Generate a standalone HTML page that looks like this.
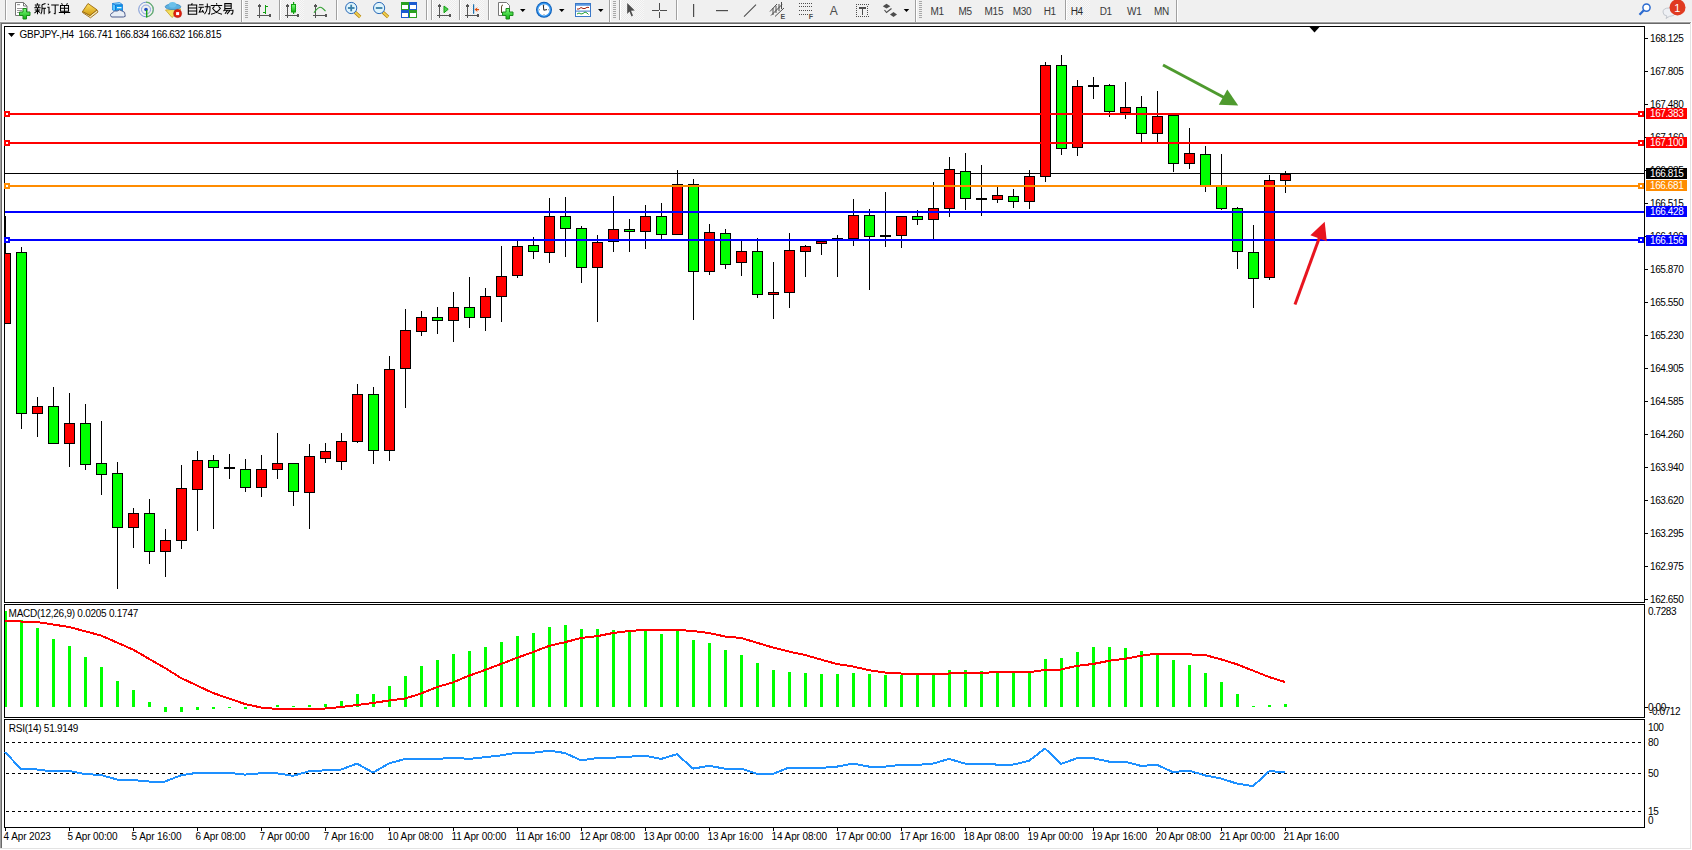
<!DOCTYPE html>
<html><head><meta charset="utf-8">
<style>
html,body{margin:0;padding:0;background:#fff;}
body{width:1692px;height:850px;overflow:hidden;position:relative;font-family:"Liberation Sans",sans-serif;}
svg{position:absolute;left:0;top:0;}
text{font-family:"Liberation Sans",sans-serif;}
</style></head><body>
<svg width="1692" height="850" viewBox="0 0 1692 850">

<rect x="0" y="0" width="1692" height="22" fill="#f0f0f0"/>
<rect x="0" y="21" width="1692" height="1" fill="#f7f7f7"/>
<rect x="0" y="22" width="1691" height="1" fill="#a0a0a0"/>
<rect x="1" y="23" width="1690" height="1" fill="#696969"/>
<rect x="0" y="22" width="1" height="826" fill="#a0a0a0"/>
<rect x="1" y="23" width="1" height="825" fill="#696969"/>
<rect x="1690" y="23" width="1" height="826" fill="#e3e3e3"/>
<rect x="0" y="848" width="1691" height="1" fill="#e3e3e3"/>
<defs><pattern id="chk" width="2" height="2" patternUnits="userSpaceOnUse"><rect width="2" height="2" fill="#f8f8f8"/><rect width="1" height="1" fill="#ebebeb"/><rect x="1" y="1" width="1" height="1" fill="#ebebeb"/></pattern><linearGradient id="gold" x1="0" y1="0" x2="0" y2="1"><stop offset="0" stop-color="#ffe060"/><stop offset="1" stop-color="#d09a10"/></linearGradient><linearGradient id="grn" x1="0" y1="0" x2="0" y2="1"><stop offset="0" stop-color="#80ff80"/><stop offset="1" stop-color="#10b010"/></linearGradient><radialGradient id="blu" cx="0.5" cy="0.4" r="0.6"><stop offset="0" stop-color="#a8e0ff"/><stop offset="1" stop-color="#2a8ad8"/></radialGradient></defs>
<g shape-rendering="crispEdges">
<rect x="5" y="0" width="1" height="20" fill="#a0a0a0"/><rect x="6" y="0" width="1" height="20" fill="#ffffff"/>
<rect x="241" y="0" width="1" height="22" fill="#a0a0a0"/><rect x="242" y="0" width="1" height="22" fill="#ffffff"/>
<rect x="245" y="1" width="3" height="1" fill="#a8a8a8"/>
<rect x="245" y="3" width="3" height="1" fill="#a8a8a8"/>
<rect x="245" y="5" width="3" height="1" fill="#a8a8a8"/>
<rect x="245" y="7" width="3" height="1" fill="#a8a8a8"/>
<rect x="245" y="9" width="3" height="1" fill="#a8a8a8"/>
<rect x="245" y="11" width="3" height="1" fill="#a8a8a8"/>
<rect x="245" y="13" width="3" height="1" fill="#a8a8a8"/>
<rect x="245" y="15" width="3" height="1" fill="#a8a8a8"/>
<rect x="245" y="17" width="3" height="1" fill="#a8a8a8"/>
<rect x="280" y="0" width="24" height="20" fill="url(#chk)"/>
<rect x="279" y="0" width="1" height="20" fill="#a0a0a0"/><rect x="280" y="0" width="1" height="20" fill="#ffffff"/>
<rect x="336" y="0" width="1" height="20" fill="#a0a0a0"/><rect x="337" y="0" width="1" height="20" fill="#ffffff"/>
<rect x="426" y="0" width="1" height="20" fill="#a0a0a0"/><rect x="427" y="0" width="1" height="20" fill="#ffffff"/>
<rect x="432" y="0" width="24" height="20" fill="url(#chk)"/>
<rect x="431" y="0" width="1" height="20" fill="#a0a0a0"/><rect x="432" y="0" width="1" height="20" fill="#ffffff"/>
<rect x="460" y="0" width="24" height="20" fill="url(#chk)"/>
<rect x="459" y="0" width="1" height="20" fill="#a0a0a0"/><rect x="460" y="0" width="1" height="20" fill="#ffffff"/>
<rect x="488" y="0" width="1" height="20" fill="#a0a0a0"/><rect x="489" y="0" width="1" height="20" fill="#ffffff"/>
<rect x="609" y="0" width="1" height="22" fill="#a0a0a0"/><rect x="610" y="0" width="1" height="22" fill="#ffffff"/>
<rect x="613" y="1" width="3" height="1" fill="#a8a8a8"/>
<rect x="613" y="3" width="3" height="1" fill="#a8a8a8"/>
<rect x="613" y="5" width="3" height="1" fill="#a8a8a8"/>
<rect x="613" y="7" width="3" height="1" fill="#a8a8a8"/>
<rect x="613" y="9" width="3" height="1" fill="#a8a8a8"/>
<rect x="613" y="11" width="3" height="1" fill="#a8a8a8"/>
<rect x="613" y="13" width="3" height="1" fill="#a8a8a8"/>
<rect x="613" y="15" width="3" height="1" fill="#a8a8a8"/>
<rect x="613" y="17" width="3" height="1" fill="#a8a8a8"/>
<rect x="620" y="0" width="24" height="20" fill="url(#chk)"/>
<rect x="619" y="0" width="1" height="20" fill="#a0a0a0"/><rect x="620" y="0" width="1" height="20" fill="#ffffff"/>
<rect x="676" y="0" width="1" height="20" fill="#a0a0a0"/><rect x="677" y="0" width="1" height="20" fill="#ffffff"/>
<rect x="915" y="0" width="1" height="22" fill="#a0a0a0"/><rect x="916" y="0" width="1" height="22" fill="#ffffff"/>
<rect x="919" y="1" width="3" height="1" fill="#a8a8a8"/>
<rect x="919" y="3" width="3" height="1" fill="#a8a8a8"/>
<rect x="919" y="5" width="3" height="1" fill="#a8a8a8"/>
<rect x="919" y="7" width="3" height="1" fill="#a8a8a8"/>
<rect x="919" y="9" width="3" height="1" fill="#a8a8a8"/>
<rect x="919" y="11" width="3" height="1" fill="#a8a8a8"/>
<rect x="919" y="13" width="3" height="1" fill="#a8a8a8"/>
<rect x="919" y="15" width="3" height="1" fill="#a8a8a8"/>
<rect x="919" y="17" width="3" height="1" fill="#a8a8a8"/>
<rect x="1066" y="0" width="24" height="20" fill="url(#chk)"/>
<rect x="1065" y="0" width="1" height="20" fill="#a0a0a0"/><rect x="1066" y="0" width="1" height="20" fill="#ffffff"/>
<rect x="1176" y="0" width="1" height="22" fill="#a0a0a0"/><rect x="1177" y="0" width="1" height="22" fill="#ffffff"/>
</g>
<path d="M15.5,2.5 h8 l3.5,3.5 v9.5 h-11.5 z" fill="#fff" stroke="#777" stroke-width="1"/>
<path d="M23.5,2.5 v3.5 h3.5" fill="none" stroke="#777" stroke-width="1"/>
<g fill="#9a9a9a"><rect x="17" y="4" width="3" height="1.2"/><rect x="17" y="8" width="6" height="1"/><rect x="17" y="10" width="5" height="1"/><rect x="17" y="12" width="4" height="1"/></g>
<path d="M23,8.5 h3.5 v3.5 h3.5 v3.5 h-3.5 v3.5 h-3.5 v-3.5 h-3.5 v-3.5 h3.5 z" fill="url(#grn)" stroke="#1a8a1a" stroke-width="1"/>
<path d="M97,9.8 L98,12 L90.5,17.8 L82.5,12.5 L82.5,11.5 L90,15.5 Z" fill="#f4e6b0" stroke="#9a6a10" stroke-width="0.9"/>
<path d="M88,3.5 L97,9.8 L90,15.5 L82.5,11.5 Z" fill="url(#gold)" stroke="#9a6a10" stroke-width="0.9"/>
<path d="M112.5,3.5 L115.5,5 L115.5,11 L112.5,10 Z" fill="#5ac8ff" stroke="#0a78d8" stroke-width="0.7"/>
<path d="M112.5,3.5 L119.5,2.5 L122.5,4.5 L115.5,5 Z" fill="#8ad8ff" stroke="#0a78d8" stroke-width="0.7"/>
<rect x="115.5" y="5" width="7" height="6.5" fill="#10a0f0" stroke="#0a6ad0" stroke-width="0.7"/>
<rect x="117" y="7" width="4.5" height="1.3" fill="#e0f4ff"/>
<path d="M111.5,17 q-2.5,-3 1.2,-4.2 q1.2,-2.8 4.5,-1.8 q2.2,-2.5 5.2,0.2 q3,0.5 2.6,3.4 q1.2,2.4 -1.6,2.4 z" fill="#e8eef6" stroke="#4a5a8c" stroke-width="1"/>
<circle cx="146" cy="9.5" r="7.3" fill="none" stroke="#5a80d0" stroke-width="1" opacity="0.8"/>
<circle cx="146" cy="9.5" r="4.5" fill="none" stroke="#7090d8" stroke-width="1" opacity="0.8"/>
<path d="M146,2.2 A7.3,7.3 0 0 1 146,16.8" fill="none" stroke="#60b060" stroke-width="1.2" opacity="0.9"/>
<circle cx="146" cy="9.5" r="1.8" fill="#2050c0"/>
<rect x="146" y="10" width="1.4" height="7.5" fill="#18a018"/>
<path d="M165.5,10 L181,9 L172,17.5 Z" fill="#f4e060" stroke="#c8a020" stroke-width="0.8"/>
<ellipse cx="173" cy="6.8" rx="7.8" ry="2.8" fill="#5ab0e0" stroke="#3a88c0" stroke-width="0.8"/>
<ellipse cx="172.5" cy="4.8" rx="3.8" ry="2.8" fill="#6ac0ea"/>
<circle cx="177.6" cy="13.6" r="4" fill="#e02010" stroke="#b01808" stroke-width="0.6"/>
<rect x="176.1" y="12.1" width="3" height="3" fill="#fff"/>
<g shape-rendering="crispEdges" fill="#555555"><rect x="259" y="4" width="1" height="14"/><rect x="257" y="15" width="14" height="1"/><rect x="258" y="5" width="3" height="2"/><rect x="269" y="14" width="2" height="3"/></g>
<g shape-rendering="crispEdges" fill="#10a010"><rect x="265" y="5" width="1.2" height="9"/><rect x="265" y="6" width="3" height="1.2"/><rect x="263" y="12" width="2.5" height="1.2"/></g>
<g shape-rendering="crispEdges" fill="#555555"><rect x="287" y="4" width="1" height="14"/><rect x="285" y="15" width="14" height="1"/><rect x="286" y="5" width="3" height="2"/><rect x="297" y="14" width="2" height="3"/></g>
<rect x="293" y="2" width="1.2" height="12" fill="#10a010"/>
<rect x="291.5" y="4.5" width="4" height="7.5" fill="url(#grn)" stroke="#10a010" stroke-width="1"/>
<g shape-rendering="crispEdges" fill="#555555"><rect x="315" y="4" width="1" height="14"/><rect x="313" y="15" width="14" height="1"/><rect x="314" y="5" width="3" height="2"/><rect x="325" y="14" width="2" height="3"/></g>
<path d="M314,12.8 Q317,8 320,7.2 Q322,7 325.5,11.2" fill="none" stroke="#30a030" stroke-width="1.1"/>
<line x1="355.0" y1="12.2" x2="360.2" y2="17" stroke="#b08010" stroke-width="3.2"/>
<line x1="355.0" y1="12.2" x2="360.2" y2="17" stroke="#f0d050" stroke-width="1.8"/>
<circle cx="351.2" cy="8" r="5.6" fill="#dff4fc" stroke="#2a6ab8" stroke-width="1"/>
<rect x="347.9" y="7.1" width="6.6" height="1.8" fill="#3a80a8"/>
<rect x="350.3" y="4.7" width="1.8" height="6.6" fill="#3a80a8"/>
<line x1="382.90000000000003" y1="12.2" x2="388.1" y2="17" stroke="#b08010" stroke-width="3.2"/>
<line x1="382.90000000000003" y1="12.2" x2="388.1" y2="17" stroke="#f0d050" stroke-width="1.8"/>
<circle cx="379.1" cy="8" r="5.6" fill="#dff4fc" stroke="#2a6ab8" stroke-width="1"/>
<rect x="375.8" y="7.1" width="6.6" height="1.8" fill="#3a80a8"/>
<rect x="401" y="2" width="8" height="8" fill="#2aa020"/>
<rect x="402" y="5" width="6" height="4" fill="#fff"/>
<rect x="409" y="2" width="8" height="8" fill="#1a5ad0"/>
<rect x="410" y="5" width="6" height="4" fill="#fff"/>
<rect x="401" y="10" width="8" height="8" fill="#1a5ad0"/>
<rect x="402" y="13" width="6" height="4" fill="#fff"/>
<rect x="409" y="10" width="8" height="8" fill="#2aa020"/>
<rect x="410" y="13" width="6" height="4" fill="#fff"/>
<g shape-rendering="crispEdges" fill="#555555"><rect x="439" y="4" width="1" height="14"/><rect x="437" y="15" width="14" height="1"/><rect x="438" y="5" width="3" height="2"/><rect x="449" y="14" width="2" height="3"/></g>
<polygon points="444,6 448.2,9.3 444,12.8" fill="#50d050" stroke="#10a010" stroke-width="1"/>
<g shape-rendering="crispEdges" fill="#555555"><rect x="467" y="4" width="1" height="14"/><rect x="465" y="15" width="14" height="1"/><rect x="466" y="5" width="3" height="2"/><rect x="477" y="14" width="2" height="3"/></g>
<rect x="473" y="4.3" width="1.2" height="9.5" fill="#1a70b0"/>
<polygon points="474.5,9.5 477.5,7.2 477,9 479,9 479,10.2 477,10.2 477.5,12" fill="#e05010"/>
<path d="M498.5,2.5 h8 l3,3 v10 h-11 z" fill="#fff" stroke="#777" stroke-width="1"/>
<path d="M503,5 q-1.5,0 -1.5,2 v6" fill="none" stroke="#5a4a2a" stroke-width="1"/>
<path d="M506,8.5 h3.5 v3.5 h3.5 v3.5 h-3.5 v3.5 h-3.5 v-3.5 h-3.5 v-3.5 h3.5 z" fill="url(#grn)" stroke="#1a8a1a" stroke-width="1"/>
<polygon points="520,9 525.5,9 522.75,12" fill="#000"/>
<circle cx="544" cy="9.8" r="8" fill="#0a5cb8"/><circle cx="544" cy="9.8" r="7" fill="#3a9af0"/><circle cx="544" cy="9.8" r="5.6" fill="#fff"/>
<g fill="#555"><rect x="543.6" y="4.6" width="0.8" height="0.8"/><rect x="543.6" y="14.2" width="0.8" height="0.8"/><rect x="539" y="9.4" width="0.8" height="0.8"/><rect x="548.2" y="9.4" width="0.8" height="0.8"/></g>
<path d="M543.3,4.8 L543.8,10.2 L547,9.6" fill="none" stroke="#222" stroke-width="1"/>
<polygon points="559,9 564.5,9 561.75,12" fill="#000"/>
<rect x="575.5" y="3.5" width="15" height="13" fill="#fff" stroke="#3a78c8" stroke-width="1"/>
<rect x="576" y="4" width="14" height="1.8" fill="#5a98e0"/>
<rect x="576" y="10.6" width="14" height="1" fill="#3a78c8"/>
<polyline points="577,9 579,9 581,7.5 583,8.5 585,8.5 587,7.3 589,7.5" fill="none" stroke="#a02010" stroke-width="1"/>
<polyline points="577,14 579,13 581,14 583,13.5 585,12 587,13 588.5,14.5" fill="none" stroke="#20a030" stroke-width="1"/>
<polygon points="598,9 603.5,9 600.75,12" fill="#000"/>
<polygon points="627.2,3 634.8,10.6 631,10.8 633,15.6 631.5,16.6 629.5,11.6 627.2,13.9" fill="#4d4d4d"/>
<g shape-rendering="crispEdges" fill="#4d4d4d"><rect x="652" y="10" width="6.5" height="1"/><rect x="660" y="10" width="7" height="1"/><rect x="659" y="3" width="1" height="6.5"/><rect x="659" y="11.5" width="1" height="6.5"/></g>
<rect x="693" y="4" width="1.2" height="13" fill="#4d4d4d"/>
<rect x="716" y="10" width="12" height="1.2" fill="#4d4d4d"/>
<line x1="744" y1="16.7" x2="756" y2="4.6" stroke="#4d4d4d" stroke-width="1.1"/>
<g stroke="#4d4d4d" stroke-width="1" fill="none"><line x1="770" y1="11.5" x2="777" y2="4"/><line x1="771" y1="15.5" x2="782" y2="4.5"/><line x1="775" y1="16.5" x2="784" y2="8"/><line x1="773" y1="8" x2="773" y2="15"/><line x1="776" y1="6" x2="776" y2="13"/><line x1="779" y1="4" x2="779" y2="11"/><line x1="781.5" y1="2" x2="781.5" y2="9"/></g>
<text x="780.6" y="18.8" font-size="7" font-weight="bold" fill="#4d4d4d">E</text>
<g shape-rendering="crispEdges" fill="#4d4d4d">
<rect x="799" y="3" width="1" height="1"/>
<rect x="801" y="3" width="1" height="1"/>
<rect x="803" y="3" width="1" height="1"/>
<rect x="805" y="3" width="1" height="1"/>
<rect x="807" y="3" width="1" height="1"/>
<rect x="809" y="3" width="1" height="1"/>
<rect x="811" y="3" width="1" height="1"/>
<rect x="799" y="6" width="1" height="1"/>
<rect x="801" y="6" width="1" height="1"/>
<rect x="803" y="6" width="1" height="1"/>
<rect x="805" y="6" width="1" height="1"/>
<rect x="807" y="6" width="1" height="1"/>
<rect x="809" y="6" width="1" height="1"/>
<rect x="811" y="6" width="1" height="1"/>
<rect x="799" y="10" width="1" height="1"/>
<rect x="801" y="10" width="1" height="1"/>
<rect x="803" y="10" width="1" height="1"/>
<rect x="805" y="10" width="1" height="1"/>
<rect x="807" y="10" width="1" height="1"/>
<rect x="809" y="10" width="1" height="1"/>
<rect x="811" y="10" width="1" height="1"/>
<rect x="799" y="14" width="1" height="1"/>
<rect x="801" y="14" width="1" height="1"/>
<rect x="803" y="14" width="1" height="1"/>
<rect x="805" y="14" width="1" height="1"/>
<rect x="807" y="14" width="1" height="1"/>
</g>
<text x="808.8" y="18.8" font-size="7" font-weight="bold" fill="#4d4d4d">F</text>
<text x="829.8" y="15" font-size="12" fill="#4d4d4d">A</text>
<g shape-rendering="crispEdges" fill="#4d4d4d">
<rect x="856" y="4" width="1" height="1"/><rect x="856" y="16" width="1" height="1"/>
<rect x="858" y="4" width="1" height="1"/><rect x="858" y="16" width="1" height="1"/>
<rect x="860" y="4" width="1" height="1"/><rect x="860" y="16" width="1" height="1"/>
<rect x="862" y="4" width="1" height="1"/><rect x="862" y="16" width="1" height="1"/>
<rect x="864" y="4" width="1" height="1"/><rect x="864" y="16" width="1" height="1"/>
<rect x="866" y="4" width="1" height="1"/><rect x="866" y="16" width="1" height="1"/>
<rect x="868" y="4" width="1" height="1"/><rect x="868" y="16" width="1" height="1"/>
<rect x="856" y="6" width="1" height="1"/><rect x="867" y="6" width="1" height="1"/>
<rect x="856" y="8" width="1" height="1"/><rect x="867" y="8" width="1" height="1"/>
<rect x="856" y="10" width="1" height="1"/><rect x="867" y="10" width="1" height="1"/>
<rect x="856" y="12" width="1" height="1"/><rect x="867" y="12" width="1" height="1"/>
<rect x="856" y="14" width="1" height="1"/><rect x="867" y="14" width="1" height="1"/>
<rect x="859" y="7" width="7" height="1.6"/><rect x="861.6" y="7" width="1.8" height="8"/>
</g>
<polygon points="886.5,3.8 890.3,6.3 886.5,8.6 882.8,6.3" fill="#4d4d4d"/>
<polyline points="884.5,10 886.5,12.5 891.5,8.5" fill="none" stroke="#4d4d4d" stroke-width="1.2"/>
<polygon points="893.5,12 897,14.5 893.5,17 890,14.5" fill="#4d4d4d"/>
<polygon points="903.7,9 909.2,9 906.45,12" fill="#000"/>
<text x="930.6" y="14.6" font-size="10" letter-spacing="-0.3" fill="#3a3a3a">M1</text>
<text x="958.5" y="14.6" font-size="10" letter-spacing="-0.3" fill="#3a3a3a">M5</text>
<text x="984.6" y="14.6" font-size="10" letter-spacing="-0.3" fill="#3a3a3a">M15</text>
<text x="1012.7" y="14.6" font-size="10" letter-spacing="-0.3" fill="#3a3a3a">M30</text>
<text x="1043.7" y="14.6" font-size="10" letter-spacing="-0.3" fill="#3a3a3a">H1</text>
<text x="1070.7" y="14.6" font-size="10" letter-spacing="-0.3" fill="#2a2a2a">H4</text>
<text x="1099.7" y="14.6" font-size="10" letter-spacing="-0.3" fill="#3a3a3a">D1</text>
<text x="1127" y="14.6" font-size="10" letter-spacing="-0.3" fill="#3a3a3a">W1</text>
<text x="1153.9" y="14.6" font-size="10" letter-spacing="-0.3" fill="#3a3a3a">MN</text>
<circle cx="1646.5" cy="7.6" r="3.6" fill="#fff" stroke="#2a6ad0" stroke-width="1.5"/>
<line x1="1643.8" y1="10.3" x2="1639.5" y2="14.8" stroke="#2a6ad0" stroke-width="2.2"/>
<path d="M1669,8 q-6,0 -6,4 q0,3.5 4,4 l-1,2.5 l3.5,-2.2 q6,-0.3 6,-4.3 q0,-4 -6.5,-4 z" fill="#eef0f4" stroke="#b8bcc4" stroke-width="0.8"/>
<circle cx="1677.5" cy="7.4" r="8" fill="#e03a20"/>
<text x="1674.2" y="11.6" font-size="11" fill="#fff">1</text>
<path transform="translate(34,3.2)" d="M3,0 L3.8,1.2 M0.8,1.8 H6.2 M1.8,2.6 L2.4,4 M5,2.6 L4.4,4 M0.3,4.6 H6.7 M0.8,6.8 H6.2 M3.5,4.6 V11 M3.3,7.5 L0.5,10 M3.7,7.5 L6,9.5 M11.5,0.4 L8,1.6 M8,1.6 V6 Q8,9.5 6.8,11 M8,5 H12 M10.2,5 V11" fill="none" stroke="#000" stroke-width="1.05"/>
<path transform="translate(47,3.2)" d="M0.8,0.5 L1.8,1.8 M0.3,4 H2 V9.8 L3.5,8.5 M4.2,1.8 H11.8 M8.2,1.8 V10.4 Q8.2,11 6.8,10.2" fill="none" stroke="#000" stroke-width="1.05"/>
<path transform="translate(58.5,3.2)" d="M3,0 L4,1.6 M9,0 L8,1.6 M2,2.2 H10 V8 H2 Z M2,5.1 H10 M6,2.2 V11 M0.3,9.3 H11.7" fill="none" stroke="#000" stroke-width="1.05"/>
<path transform="translate(186.5,3.2)" d="M5.8,0 L5,1.6 M1.8,1.8 H10.2 V11 H1.8 Z M1.8,4.8 H10.2 M1.8,7.8 H10.2" fill="none" stroke="#000" stroke-width="1.05"/>
<path transform="translate(198.5,3.2)" d="M0.5,1.5 H5 M0,4 H5.5 M2.8,4 L0.8,9 L5,8.3 M3.8,6.8 L5.3,9.5 M6.2,3.6 H11.5 Q11.5,10 10.6,11 L9.5,10.4 M8.8,0.3 V4 Q8.5,8.5 6,11" fill="none" stroke="#000" stroke-width="1.05"/>
<path transform="translate(210.5,3.2)" d="M6,0 L6.4,1.4 M0.3,2.2 H11.7 M4,3.2 L1.8,5.5 M8,3.2 L10.2,5.5 M2.5,5.5 Q5,9.5 11.5,11 M9.5,5.5 Q7,9.5 0.5,11" fill="none" stroke="#000" stroke-width="1.05"/>
<path transform="translate(222,3.2)" d="M2.8,0.4 H9.2 V5.2 H2.8 Z M2.8,2.8 H9.2 M3.2,6 L1.5,8 M2.5,7 H11 Q11,10.5 9.8,11 L8.8,10.5 M5.5,7.2 L3,10.5 M8,7.2 L5,11" fill="none" stroke="#000" stroke-width="1.05"/>
<g shape-rendering="crispEdges">
<rect x="4" y="26" width="1641" height="1" fill="#000"/>
<rect x="4" y="602" width="1641" height="1" fill="#000"/>
<rect x="4" y="26" width="1" height="577" fill="#000"/>
<rect x="1644" y="26" width="1" height="577" fill="#000"/>
<rect x="4" y="604" width="1641" height="1" fill="#000"/>
<rect x="4" y="717" width="1641" height="1" fill="#000"/>
<rect x="4" y="604" width="1" height="114" fill="#000"/>
<rect x="1644" y="604" width="1" height="114" fill="#000"/>
<rect x="4" y="719" width="1641" height="1" fill="#000"/>
<rect x="4" y="827" width="1641" height="1" fill="#000"/>
<rect x="4" y="719" width="1" height="109" fill="#000"/>
<rect x="1644" y="719" width="1" height="109" fill="#000"/>
<rect x="5" y="173" width="1639" height="1" fill="#000"/>
<g>
<rect x="5" y="216" width="1" height="108" fill="#000"/>
<rect x="5" y="253" width="6" height="71" fill="#000"/>
<rect x="5" y="254" width="5" height="69" fill="#ff0000"/>
<rect x="21" y="247" width="1" height="182" fill="#000"/>
<rect x="16" y="252" width="11" height="162" fill="#000"/>
<rect x="17" y="253" width="9" height="160" fill="#00ff00"/>
<rect x="37" y="397" width="1" height="40" fill="#000"/>
<rect x="32" y="406" width="11" height="8" fill="#000"/>
<rect x="33" y="407" width="9" height="6" fill="#ff0000"/>
<rect x="53" y="387" width="1" height="57" fill="#000"/>
<rect x="48" y="406" width="11" height="38" fill="#000"/>
<rect x="49" y="407" width="9" height="36" fill="#00ff00"/>
<rect x="69" y="393" width="1" height="74" fill="#000"/>
<rect x="64" y="423" width="11" height="21" fill="#000"/>
<rect x="65" y="424" width="9" height="19" fill="#ff0000"/>
<rect x="85" y="404" width="1" height="66" fill="#000"/>
<rect x="80" y="423" width="11" height="42" fill="#000"/>
<rect x="81" y="424" width="9" height="40" fill="#00ff00"/>
<rect x="101" y="421" width="1" height="74" fill="#000"/>
<rect x="96" y="463" width="11" height="12" fill="#000"/>
<rect x="97" y="464" width="9" height="10" fill="#00ff00"/>
<rect x="117" y="462" width="1" height="127" fill="#000"/>
<rect x="112" y="473" width="11" height="55" fill="#000"/>
<rect x="113" y="474" width="9" height="53" fill="#00ff00"/>
<rect x="133" y="508" width="1" height="40" fill="#000"/>
<rect x="128" y="513" width="11" height="15" fill="#000"/>
<rect x="129" y="514" width="9" height="13" fill="#ff0000"/>
<rect x="149" y="499" width="1" height="65" fill="#000"/>
<rect x="144" y="513" width="11" height="39" fill="#000"/>
<rect x="145" y="514" width="9" height="37" fill="#00ff00"/>
<rect x="165" y="529" width="1" height="48" fill="#000"/>
<rect x="160" y="540" width="11" height="12" fill="#000"/>
<rect x="161" y="541" width="9" height="10" fill="#ff0000"/>
<rect x="181" y="465" width="1" height="84" fill="#000"/>
<rect x="176" y="488" width="11" height="53" fill="#000"/>
<rect x="177" y="489" width="9" height="51" fill="#ff0000"/>
<rect x="197" y="451" width="1" height="80" fill="#000"/>
<rect x="192" y="460" width="11" height="30" fill="#000"/>
<rect x="193" y="461" width="9" height="28" fill="#ff0000"/>
<rect x="213" y="455" width="1" height="74" fill="#000"/>
<rect x="208" y="460" width="11" height="8" fill="#000"/>
<rect x="209" y="461" width="9" height="6" fill="#00ff00"/>
<rect x="229" y="454" width="1" height="25" fill="#000"/>
<rect x="224" y="467" width="11" height="2" fill="#000"/>
<rect x="245" y="459" width="1" height="33" fill="#000"/>
<rect x="240" y="469" width="11" height="19" fill="#000"/>
<rect x="241" y="470" width="9" height="17" fill="#00ff00"/>
<rect x="261" y="455" width="1" height="42" fill="#000"/>
<rect x="256" y="469" width="11" height="19" fill="#000"/>
<rect x="257" y="470" width="9" height="17" fill="#ff0000"/>
<rect x="277" y="433" width="1" height="46" fill="#000"/>
<rect x="272" y="463" width="11" height="7" fill="#000"/>
<rect x="273" y="464" width="9" height="5" fill="#ff0000"/>
<rect x="293" y="463" width="1" height="43" fill="#000"/>
<rect x="288" y="463" width="11" height="29" fill="#000"/>
<rect x="289" y="464" width="9" height="27" fill="#00ff00"/>
<rect x="309" y="444" width="1" height="85" fill="#000"/>
<rect x="304" y="456" width="11" height="37" fill="#000"/>
<rect x="305" y="457" width="9" height="35" fill="#ff0000"/>
<rect x="325" y="443" width="1" height="20" fill="#000"/>
<rect x="320" y="451" width="11" height="8" fill="#000"/>
<rect x="321" y="452" width="9" height="6" fill="#ff0000"/>
<rect x="341" y="433" width="1" height="37" fill="#000"/>
<rect x="336" y="441" width="11" height="21" fill="#000"/>
<rect x="337" y="442" width="9" height="19" fill="#ff0000"/>
<rect x="357" y="384" width="1" height="59" fill="#000"/>
<rect x="352" y="394" width="11" height="48" fill="#000"/>
<rect x="353" y="395" width="9" height="46" fill="#ff0000"/>
<rect x="373" y="387" width="1" height="77" fill="#000"/>
<rect x="368" y="394" width="11" height="57" fill="#000"/>
<rect x="369" y="395" width="9" height="55" fill="#00ff00"/>
<rect x="389" y="356" width="1" height="105" fill="#000"/>
<rect x="384" y="369" width="11" height="82" fill="#000"/>
<rect x="385" y="370" width="9" height="80" fill="#ff0000"/>
<rect x="405" y="309" width="1" height="99" fill="#000"/>
<rect x="400" y="330" width="11" height="39" fill="#000"/>
<rect x="401" y="331" width="9" height="37" fill="#ff0000"/>
<rect x="421" y="311" width="1" height="25" fill="#000"/>
<rect x="416" y="317" width="11" height="15" fill="#000"/>
<rect x="417" y="318" width="9" height="13" fill="#ff0000"/>
<rect x="437" y="307" width="1" height="27" fill="#000"/>
<rect x="432" y="317" width="11" height="4" fill="#000"/>
<rect x="433" y="318" width="9" height="2" fill="#00ff00"/>
<rect x="453" y="292" width="1" height="50" fill="#000"/>
<rect x="448" y="307" width="11" height="14" fill="#000"/>
<rect x="449" y="308" width="9" height="12" fill="#ff0000"/>
<rect x="469" y="277" width="1" height="51" fill="#000"/>
<rect x="464" y="307" width="11" height="11" fill="#000"/>
<rect x="465" y="308" width="9" height="9" fill="#00ff00"/>
<rect x="485" y="288" width="1" height="43" fill="#000"/>
<rect x="480" y="296" width="11" height="22" fill="#000"/>
<rect x="481" y="297" width="9" height="20" fill="#ff0000"/>
<rect x="501" y="246" width="1" height="76" fill="#000"/>
<rect x="496" y="276" width="11" height="21" fill="#000"/>
<rect x="497" y="277" width="9" height="19" fill="#ff0000"/>
<rect x="517" y="240" width="1" height="38" fill="#000"/>
<rect x="512" y="246" width="11" height="30" fill="#000"/>
<rect x="513" y="247" width="9" height="28" fill="#ff0000"/>
<rect x="533" y="237" width="1" height="22" fill="#000"/>
<rect x="528" y="245" width="11" height="7" fill="#000"/>
<rect x="529" y="246" width="9" height="5" fill="#00ff00"/>
<rect x="549" y="198" width="1" height="65" fill="#000"/>
<rect x="544" y="216" width="11" height="37" fill="#000"/>
<rect x="545" y="217" width="9" height="35" fill="#ff0000"/>
<rect x="565" y="197" width="1" height="60" fill="#000"/>
<rect x="560" y="216" width="11" height="13" fill="#000"/>
<rect x="561" y="217" width="9" height="11" fill="#00ff00"/>
<rect x="581" y="226" width="1" height="57" fill="#000"/>
<rect x="576" y="228" width="11" height="40" fill="#000"/>
<rect x="577" y="229" width="9" height="38" fill="#00ff00"/>
<rect x="597" y="235" width="1" height="87" fill="#000"/>
<rect x="592" y="242" width="11" height="26" fill="#000"/>
<rect x="593" y="243" width="9" height="24" fill="#ff0000"/>
<rect x="613" y="196" width="1" height="56" fill="#000"/>
<rect x="608" y="229" width="11" height="13" fill="#000"/>
<rect x="609" y="230" width="9" height="11" fill="#ff0000"/>
<rect x="629" y="219" width="1" height="33" fill="#000"/>
<rect x="624" y="229" width="11" height="3" fill="#000"/>
<rect x="625" y="230" width="9" height="1" fill="#00ff00"/>
<rect x="645" y="205" width="1" height="44" fill="#000"/>
<rect x="640" y="216" width="11" height="16" fill="#000"/>
<rect x="641" y="217" width="9" height="14" fill="#ff0000"/>
<rect x="661" y="203" width="1" height="37" fill="#000"/>
<rect x="656" y="216" width="11" height="19" fill="#000"/>
<rect x="657" y="217" width="9" height="17" fill="#00ff00"/>
<rect x="677" y="170" width="1" height="65" fill="#000"/>
<rect x="672" y="184" width="11" height="51" fill="#000"/>
<rect x="673" y="185" width="9" height="49" fill="#ff0000"/>
<rect x="693" y="179" width="1" height="141" fill="#000"/>
<rect x="688" y="184" width="11" height="88" fill="#000"/>
<rect x="689" y="185" width="9" height="86" fill="#00ff00"/>
<rect x="709" y="224" width="1" height="51" fill="#000"/>
<rect x="704" y="232" width="11" height="40" fill="#000"/>
<rect x="705" y="233" width="9" height="38" fill="#ff0000"/>
<rect x="725" y="229" width="1" height="40" fill="#000"/>
<rect x="720" y="233" width="11" height="32" fill="#000"/>
<rect x="721" y="234" width="9" height="30" fill="#00ff00"/>
<rect x="741" y="240" width="1" height="36" fill="#000"/>
<rect x="736" y="251" width="11" height="12" fill="#000"/>
<rect x="737" y="252" width="9" height="10" fill="#ff0000"/>
<rect x="757" y="238" width="1" height="60" fill="#000"/>
<rect x="752" y="251" width="11" height="44" fill="#000"/>
<rect x="753" y="252" width="9" height="42" fill="#00ff00"/>
<rect x="773" y="262" width="1" height="57" fill="#000"/>
<rect x="768" y="292" width="11" height="3" fill="#000"/>
<rect x="769" y="293" width="9" height="1" fill="#ff0000"/>
<rect x="789" y="233" width="1" height="75" fill="#000"/>
<rect x="784" y="250" width="11" height="43" fill="#000"/>
<rect x="785" y="251" width="9" height="41" fill="#ff0000"/>
<rect x="805" y="245" width="1" height="32" fill="#000"/>
<rect x="800" y="246" width="11" height="6" fill="#000"/>
<rect x="801" y="247" width="9" height="4" fill="#ff0000"/>
<rect x="821" y="241" width="1" height="14" fill="#000"/>
<rect x="816" y="241" width="11" height="3" fill="#000"/>
<rect x="817" y="242" width="9" height="1" fill="#ff0000"/>
<rect x="837" y="235" width="1" height="42" fill="#000"/>
<rect x="832" y="238" width="11" height="2" fill="#000"/>
<rect x="853" y="199" width="1" height="47" fill="#000"/>
<rect x="848" y="215" width="11" height="24" fill="#000"/>
<rect x="849" y="216" width="9" height="22" fill="#ff0000"/>
<rect x="869" y="209" width="1" height="81" fill="#000"/>
<rect x="864" y="215" width="11" height="22" fill="#000"/>
<rect x="865" y="216" width="9" height="20" fill="#00ff00"/>
<rect x="885" y="192" width="1" height="55" fill="#000"/>
<rect x="880" y="235" width="11" height="2" fill="#000"/>
<rect x="901" y="216" width="1" height="32" fill="#000"/>
<rect x="896" y="216" width="11" height="20" fill="#000"/>
<rect x="897" y="217" width="9" height="18" fill="#ff0000"/>
<rect x="917" y="210" width="1" height="15" fill="#000"/>
<rect x="912" y="216" width="11" height="4" fill="#000"/>
<rect x="913" y="217" width="9" height="2" fill="#00ff00"/>
<rect x="933" y="182" width="1" height="58" fill="#000"/>
<rect x="928" y="208" width="11" height="12" fill="#000"/>
<rect x="929" y="209" width="9" height="10" fill="#ff0000"/>
<rect x="949" y="157" width="1" height="60" fill="#000"/>
<rect x="944" y="169" width="11" height="40" fill="#000"/>
<rect x="945" y="170" width="9" height="38" fill="#ff0000"/>
<rect x="965" y="153" width="1" height="57" fill="#000"/>
<rect x="960" y="171" width="11" height="28" fill="#000"/>
<rect x="961" y="172" width="9" height="26" fill="#00ff00"/>
<rect x="981" y="165" width="1" height="51" fill="#000"/>
<rect x="976" y="198" width="11" height="2" fill="#000"/>
<rect x="997" y="187" width="1" height="16" fill="#000"/>
<rect x="992" y="195" width="11" height="5" fill="#000"/>
<rect x="993" y="196" width="9" height="3" fill="#ff0000"/>
<rect x="1013" y="189" width="1" height="19" fill="#000"/>
<rect x="1008" y="196" width="11" height="6" fill="#000"/>
<rect x="1009" y="197" width="9" height="4" fill="#00ff00"/>
<rect x="1029" y="170" width="1" height="39" fill="#000"/>
<rect x="1024" y="176" width="11" height="26" fill="#000"/>
<rect x="1025" y="177" width="9" height="24" fill="#ff0000"/>
<rect x="1045" y="62" width="1" height="120" fill="#000"/>
<rect x="1040" y="65" width="11" height="112" fill="#000"/>
<rect x="1041" y="66" width="9" height="110" fill="#ff0000"/>
<rect x="1061" y="55" width="1" height="100" fill="#000"/>
<rect x="1056" y="65" width="11" height="84" fill="#000"/>
<rect x="1057" y="66" width="9" height="82" fill="#00ff00"/>
<rect x="1077" y="80" width="1" height="76" fill="#000"/>
<rect x="1072" y="86" width="11" height="62" fill="#000"/>
<rect x="1073" y="87" width="9" height="60" fill="#ff0000"/>
<rect x="1093" y="77" width="1" height="22" fill="#000"/>
<rect x="1088" y="85" width="11" height="2" fill="#000"/>
<rect x="1109" y="84" width="1" height="33" fill="#000"/>
<rect x="1104" y="85" width="11" height="27" fill="#000"/>
<rect x="1105" y="86" width="9" height="25" fill="#00ff00"/>
<rect x="1125" y="82" width="1" height="37" fill="#000"/>
<rect x="1120" y="107" width="11" height="6" fill="#000"/>
<rect x="1121" y="108" width="9" height="4" fill="#ff0000"/>
<rect x="1141" y="96" width="1" height="47" fill="#000"/>
<rect x="1136" y="107" width="11" height="27" fill="#000"/>
<rect x="1137" y="108" width="9" height="25" fill="#00ff00"/>
<rect x="1157" y="91" width="1" height="52" fill="#000"/>
<rect x="1152" y="116" width="11" height="18" fill="#000"/>
<rect x="1153" y="117" width="9" height="16" fill="#ff0000"/>
<rect x="1173" y="115" width="1" height="57" fill="#000"/>
<rect x="1168" y="115" width="11" height="49" fill="#000"/>
<rect x="1169" y="116" width="9" height="47" fill="#00ff00"/>
<rect x="1189" y="128" width="1" height="41" fill="#000"/>
<rect x="1184" y="153" width="11" height="11" fill="#000"/>
<rect x="1185" y="154" width="9" height="9" fill="#ff0000"/>
<rect x="1205" y="146" width="1" height="46" fill="#000"/>
<rect x="1200" y="154" width="11" height="32" fill="#000"/>
<rect x="1201" y="155" width="9" height="30" fill="#00ff00"/>
<rect x="1221" y="154" width="1" height="56" fill="#000"/>
<rect x="1216" y="186" width="11" height="23" fill="#000"/>
<rect x="1217" y="187" width="9" height="21" fill="#00ff00"/>
<rect x="1237" y="207" width="1" height="62" fill="#000"/>
<rect x="1232" y="208" width="11" height="44" fill="#000"/>
<rect x="1233" y="209" width="9" height="42" fill="#00ff00"/>
<rect x="1253" y="225" width="1" height="83" fill="#000"/>
<rect x="1248" y="252" width="11" height="27" fill="#000"/>
<rect x="1249" y="253" width="9" height="25" fill="#00ff00"/>
<rect x="1269" y="175" width="1" height="105" fill="#000"/>
<rect x="1264" y="180" width="11" height="98" fill="#000"/>
<rect x="1265" y="181" width="9" height="96" fill="#ff0000"/>
<rect x="1285" y="171" width="1" height="22" fill="#000"/>
<rect x="1280" y="174" width="11" height="7" fill="#000"/>
<rect x="1281" y="175" width="9" height="5" fill="#ff0000"/>
</g>
<rect x="5" y="113" width="1639" height="2" fill="#ff0000"/>
<rect x="1638" y="111" width="6" height="6" fill="#ff0000"/>
<rect x="1640" y="113" width="2" height="2" fill="#fff"/>
<rect x="4" y="111" width="6" height="6" fill="#ff0000"/>
<rect x="6" y="113" width="2" height="2" fill="#fff"/>
<rect x="5" y="142" width="1639" height="2" fill="#ff0000"/>
<rect x="1638" y="140" width="6" height="6" fill="#ff0000"/>
<rect x="1640" y="142" width="2" height="2" fill="#fff"/>
<rect x="4" y="140" width="6" height="6" fill="#ff0000"/>
<rect x="6" y="142" width="2" height="2" fill="#fff"/>
<rect x="5" y="185" width="1639" height="2" fill="#ff8c00"/>
<rect x="1638" y="183" width="6" height="6" fill="#ff8c00"/>
<rect x="1640" y="185" width="2" height="2" fill="#fff"/>
<rect x="4" y="183" width="6" height="6" fill="#ff8c00"/>
<rect x="6" y="185" width="2" height="2" fill="#fff"/>
<rect x="5" y="211" width="1639" height="2" fill="#0000ff"/>
<rect x="5" y="239" width="1639" height="2" fill="#0000ff"/>
<rect x="1638" y="237" width="6" height="6" fill="#0000ff"/>
<rect x="1640" y="239" width="2" height="2" fill="#fff"/>
<rect x="4" y="237" width="6" height="6" fill="#0000ff"/>
<rect x="6" y="239" width="2" height="2" fill="#fff"/>
</g>
<polygon points="1309.5,27 1319.5,27 1314.5,32.5" fill="#000"/>
<line x1="1163" y1="65" x2="1225" y2="98" stroke="#4e9a2e" stroke-width="3"/>
<polygon points="1227.3,89.6 1218.8,104.8 1238.2,105.5" fill="#4e9a2e"/>
<line x1="1295" y1="304.5" x2="1320" y2="236" stroke="#e8151f" stroke-width="3"/>
<polygon points="1324.7,221.8 1310.4,235.3 1326.8,241.2" fill="#e8151f"/>
<g shape-rendering="crispEdges">
<rect x="1645" y="38" width="3" height="1" fill="#000"/>
<rect x="1645" y="71" width="3" height="1" fill="#000"/>
<rect x="1645" y="104" width="3" height="1" fill="#000"/>
<rect x="1645" y="137" width="3" height="1" fill="#000"/>
<rect x="1645" y="170" width="3" height="1" fill="#000"/>
<rect x="1645" y="203" width="3" height="1" fill="#000"/>
<rect x="1645" y="236" width="3" height="1" fill="#000"/>
<rect x="1645" y="269" width="3" height="1" fill="#000"/>
<rect x="1645" y="302" width="3" height="1" fill="#000"/>
<rect x="1645" y="335" width="3" height="1" fill="#000"/>
<rect x="1645" y="368" width="3" height="1" fill="#000"/>
<rect x="1645" y="401" width="3" height="1" fill="#000"/>
<rect x="1645" y="434" width="3" height="1" fill="#000"/>
<rect x="1645" y="467" width="3" height="1" fill="#000"/>
<rect x="1645" y="500" width="3" height="1" fill="#000"/>
<rect x="1645" y="533" width="3" height="1" fill="#000"/>
<rect x="1645" y="566" width="3" height="1" fill="#000"/>
<rect x="1645" y="599" width="3" height="1" fill="#000"/>
<rect x="5" y="611" width="2" height="96" fill="#00ff00"/>
<rect x="20" y="620" width="3" height="87" fill="#00ff00"/>
<rect x="36" y="628" width="3" height="79" fill="#00ff00"/>
<rect x="52" y="639" width="3" height="68" fill="#00ff00"/>
<rect x="68" y="646" width="3" height="61" fill="#00ff00"/>
<rect x="84" y="657" width="3" height="50" fill="#00ff00"/>
<rect x="100" y="667" width="3" height="40" fill="#00ff00"/>
<rect x="116" y="681" width="3" height="26" fill="#00ff00"/>
<rect x="132" y="690" width="3" height="17" fill="#00ff00"/>
<rect x="148" y="702" width="3" height="5" fill="#00ff00"/>
<rect x="164" y="707" width="3" height="5" fill="#00ff00"/>
<rect x="180" y="707" width="3" height="5" fill="#00ff00"/>
<rect x="196" y="707" width="3" height="3" fill="#00ff00"/>
<rect x="212" y="707" width="3" height="2" fill="#00ff00"/>
<rect x="228" y="707" width="3" height="1" fill="#00ff00"/>
<rect x="244" y="707" width="3" height="2" fill="#00ff00"/>
<rect x="260" y="707" width="3" height="1" fill="#00ff00"/>
<rect x="276" y="705" width="3" height="2" fill="#00ff00"/>
<rect x="292" y="706" width="3" height="1" fill="#00ff00"/>
<rect x="308" y="705" width="3" height="2" fill="#00ff00"/>
<rect x="324" y="704" width="3" height="3" fill="#00ff00"/>
<rect x="340" y="701" width="3" height="6" fill="#00ff00"/>
<rect x="356" y="694" width="3" height="13" fill="#00ff00"/>
<rect x="372" y="694" width="3" height="13" fill="#00ff00"/>
<rect x="388" y="686" width="3" height="21" fill="#00ff00"/>
<rect x="404" y="676" width="3" height="31" fill="#00ff00"/>
<rect x="420" y="666" width="3" height="41" fill="#00ff00"/>
<rect x="436" y="660" width="3" height="47" fill="#00ff00"/>
<rect x="452" y="654" width="3" height="53" fill="#00ff00"/>
<rect x="468" y="651" width="3" height="56" fill="#00ff00"/>
<rect x="484" y="647" width="3" height="60" fill="#00ff00"/>
<rect x="500" y="642" width="3" height="65" fill="#00ff00"/>
<rect x="516" y="636" width="3" height="71" fill="#00ff00"/>
<rect x="532" y="633" width="3" height="74" fill="#00ff00"/>
<rect x="548" y="627" width="3" height="80" fill="#00ff00"/>
<rect x="564" y="625" width="3" height="82" fill="#00ff00"/>
<rect x="580" y="629" width="3" height="78" fill="#00ff00"/>
<rect x="596" y="629" width="3" height="78" fill="#00ff00"/>
<rect x="612" y="630" width="3" height="77" fill="#00ff00"/>
<rect x="628" y="631" width="3" height="76" fill="#00ff00"/>
<rect x="644" y="630" width="3" height="77" fill="#00ff00"/>
<rect x="660" y="634" width="3" height="73" fill="#00ff00"/>
<rect x="676" y="631" width="3" height="76" fill="#00ff00"/>
<rect x="692" y="640" width="3" height="67" fill="#00ff00"/>
<rect x="708" y="643" width="3" height="64" fill="#00ff00"/>
<rect x="724" y="650" width="3" height="57" fill="#00ff00"/>
<rect x="740" y="655" width="3" height="52" fill="#00ff00"/>
<rect x="756" y="663" width="3" height="44" fill="#00ff00"/>
<rect x="772" y="670" width="3" height="37" fill="#00ff00"/>
<rect x="788" y="672" width="3" height="35" fill="#00ff00"/>
<rect x="804" y="673" width="3" height="34" fill="#00ff00"/>
<rect x="820" y="674" width="3" height="33" fill="#00ff00"/>
<rect x="836" y="674" width="3" height="33" fill="#00ff00"/>
<rect x="852" y="673" width="3" height="34" fill="#00ff00"/>
<rect x="868" y="674" width="3" height="33" fill="#00ff00"/>
<rect x="884" y="675" width="3" height="32" fill="#00ff00"/>
<rect x="900" y="675" width="3" height="32" fill="#00ff00"/>
<rect x="916" y="674" width="3" height="33" fill="#00ff00"/>
<rect x="932" y="674" width="3" height="33" fill="#00ff00"/>
<rect x="948" y="670" width="3" height="37" fill="#00ff00"/>
<rect x="964" y="670" width="3" height="37" fill="#00ff00"/>
<rect x="980" y="671" width="3" height="36" fill="#00ff00"/>
<rect x="996" y="671" width="3" height="36" fill="#00ff00"/>
<rect x="1012" y="673" width="3" height="34" fill="#00ff00"/>
<rect x="1028" y="671" width="3" height="36" fill="#00ff00"/>
<rect x="1044" y="659" width="3" height="48" fill="#00ff00"/>
<rect x="1060" y="658" width="3" height="49" fill="#00ff00"/>
<rect x="1076" y="652" width="3" height="55" fill="#00ff00"/>
<rect x="1092" y="647" width="3" height="60" fill="#00ff00"/>
<rect x="1108" y="647" width="3" height="60" fill="#00ff00"/>
<rect x="1124" y="648" width="3" height="59" fill="#00ff00"/>
<rect x="1140" y="651" width="3" height="56" fill="#00ff00"/>
<rect x="1156" y="654" width="3" height="53" fill="#00ff00"/>
<rect x="1172" y="660" width="3" height="47" fill="#00ff00"/>
<rect x="1188" y="665" width="3" height="42" fill="#00ff00"/>
<rect x="1204" y="673" width="3" height="34" fill="#00ff00"/>
<rect x="1220" y="682" width="3" height="25" fill="#00ff00"/>
<rect x="1236" y="694" width="3" height="13" fill="#00ff00"/>
<rect x="1252" y="706" width="3" height="1" fill="#00ff00"/>
<rect x="1268" y="705" width="3" height="2" fill="#00ff00"/>
<rect x="1284" y="704" width="3" height="3" fill="#00ff00"/>
</g>
<polyline points="5,621 37,622 69,627 101,635.5 133,649.6 165,668 181,678 213,693 245,704 261,707.5 277,709 309,709 325,708.5 341,707 373,703 389,700.5 405,698.5 421,693.6 437,687 453,682.4 469,675.7 485,670 501,664 517,657.8 533,652.1 549,645.9 565,642.2 581,638 597,636.2 613,633 629,631 645,629.8 661,629.8 677,629.8 693,631 709,633 725,636.5 741,638 757,642.7 773,647.6 789,651.6 805,655 821,659.6 837,664 853,666.5 869,670.2 885,672.5 901,673.5 949,673.5 965,672.7 1029,672.2 1045,670 1061,669.5 1077,665.8 1093,664 1109,660.8 1125,658.8 1141,655.8 1157,653.6 1173,653.6 1189,654.4 1205,655 1221,659.3 1237,664.3 1253,670.6 1269,677 1285,682" fill="none" stroke="#ff0000" stroke-width="2" stroke-linejoin="round" shape-rendering="crispEdges"/>
<g shape-rendering="crispEdges">
<line x1="6" y1="742.5" x2="1644" y2="742.5" stroke="#000" stroke-width="1" stroke-dasharray="3 3"/>
<line x1="6" y1="773.5" x2="1644" y2="773.5" stroke="#000" stroke-width="1" stroke-dasharray="3 3"/>
<line x1="6" y1="811.5" x2="1644" y2="811.5" stroke="#000" stroke-width="1" stroke-dasharray="3 3"/>
</g>
<polyline points="5,752 21,769 37,769.5 53,771.5 69,771 85,774 101,775 117,779.5 133,780 149,781.5 165,781.5 181,775.3 197,772.8 213,772.8 229,772.8 245,774.6 261,773.3 277,773.3 293,775.8 309,771.3 325,770.3 341,769.6 357,763.6 373,772.6 389,763.4 405,759 421,759 437,759 453,757.7 469,758.9 485,757.2 501,755.4 517,752.7 533,752.7 549,750.7 565,753 581,760.4 597,758 613,757.7 629,756.7 645,755.7 661,758.9 677,754.2 693,768.6 709,765.9 725,768.6 741,768.6 757,773.8 773,773.8 789,767.6 805,767.9 821,767.9 837,766.6 853,763.6 869,766.6 885,766.6 901,764.9 917,764.9 933,763.6 949,758.9 965,763.6 981,763.6 997,764.6 1013,764.6 1029,760.9 1045,748.5 1061,763.9 1077,758.2 1093,758.2 1109,761.6 1125,761.6 1141,765.9 1157,764.9 1173,772.1 1189,770.6 1205,775.4 1221,778.5 1237,783.6 1253,786.2 1269,771.4 1285,771.7" fill="none" stroke="#1e90ff" stroke-width="2" stroke-linejoin="round" shape-rendering="crispEdges"/>
<g shape-rendering="crispEdges">
<rect x="1645" y="707" width="3" height="1" fill="#000"/>
<rect x="5" y="828" width="1" height="3" fill="#000"/>
<rect x="69" y="828" width="1" height="3" fill="#000"/>
<rect x="133" y="828" width="1" height="3" fill="#000"/>
<rect x="197" y="828" width="1" height="3" fill="#000"/>
<rect x="261" y="828" width="1" height="3" fill="#000"/>
<rect x="325" y="828" width="1" height="3" fill="#000"/>
<rect x="389" y="828" width="1" height="3" fill="#000"/>
<rect x="453" y="828" width="1" height="3" fill="#000"/>
<rect x="517" y="828" width="1" height="3" fill="#000"/>
<rect x="581" y="828" width="1" height="3" fill="#000"/>
<rect x="645" y="828" width="1" height="3" fill="#000"/>
<rect x="709" y="828" width="1" height="3" fill="#000"/>
<rect x="773" y="828" width="1" height="3" fill="#000"/>
<rect x="837" y="828" width="1" height="3" fill="#000"/>
<rect x="901" y="828" width="1" height="3" fill="#000"/>
<rect x="965" y="828" width="1" height="3" fill="#000"/>
<rect x="1029" y="828" width="1" height="3" fill="#000"/>
<rect x="1093" y="828" width="1" height="3" fill="#000"/>
<rect x="1157" y="828" width="1" height="3" fill="#000"/>
<rect x="1221" y="828" width="1" height="3" fill="#000"/>
<rect x="1285" y="828" width="1" height="3" fill="#000"/>
</g>
<text x="19.6" y="38" font-size="10" letter-spacing="-0.33" fill="#000" xml:space="preserve">GBPJPY-,H4  166.741 166.834 166.632 166.815</text>
<polygon points="8,33 15,33 11.5,37" fill="#000"/>
<text x="8.6" y="617" font-size="10" letter-spacing="-0.25" fill="#000">MACD(12,26,9) 0.0205 0.1747</text>
<text x="8.8" y="732" font-size="10" letter-spacing="-0.27" fill="#000">RSI(14) 51.9149</text>
<text x="1650" y="42" font-size="10" letter-spacing="-0.4" fill="#000">168.125</text>
<text x="1650" y="75" font-size="10" letter-spacing="-0.4" fill="#000">167.805</text>
<text x="1650" y="108" font-size="10" letter-spacing="-0.4" fill="#000">167.480</text>
<text x="1650" y="141" font-size="10" letter-spacing="-0.4" fill="#000">167.160</text>
<text x="1650" y="174" font-size="10" letter-spacing="-0.4" fill="#000">166.835</text>
<text x="1650" y="207" font-size="10" letter-spacing="-0.4" fill="#000">166.515</text>
<text x="1650" y="240" font-size="10" letter-spacing="-0.4" fill="#000">166.190</text>
<text x="1650" y="273" font-size="10" letter-spacing="-0.4" fill="#000">165.870</text>
<text x="1650" y="306" font-size="10" letter-spacing="-0.4" fill="#000">165.550</text>
<text x="1650" y="339" font-size="10" letter-spacing="-0.4" fill="#000">165.230</text>
<text x="1650" y="372" font-size="10" letter-spacing="-0.4" fill="#000">164.905</text>
<text x="1650" y="405" font-size="10" letter-spacing="-0.4" fill="#000">164.585</text>
<text x="1650" y="438" font-size="10" letter-spacing="-0.4" fill="#000">164.260</text>
<text x="1650" y="471" font-size="10" letter-spacing="-0.4" fill="#000">163.940</text>
<text x="1650" y="504" font-size="10" letter-spacing="-0.4" fill="#000">163.620</text>
<text x="1650" y="537" font-size="10" letter-spacing="-0.4" fill="#000">163.295</text>
<text x="1650" y="570" font-size="10" letter-spacing="-0.4" fill="#000">162.975</text>
<text x="1650" y="603" font-size="10" letter-spacing="-0.4" fill="#000">162.650</text>
<text x="1648" y="615" font-size="10" letter-spacing="-0.4" fill="#000">0.7283</text>
<text x="1648" y="711" font-size="10" letter-spacing="-0.4" fill="#000">0.00</text>
<text x="1649" y="715" font-size="10" letter-spacing="-0.4" fill="#000">-0.0712</text>
<text x="1648" y="731" font-size="10" letter-spacing="-0.4" fill="#000">100</text>
<text x="1648" y="746" font-size="10" letter-spacing="-0.4" fill="#000">80</text>
<text x="1648" y="777" font-size="10" letter-spacing="-0.4" fill="#000">50</text>
<text x="1648" y="815" font-size="10" letter-spacing="-0.4" fill="#000">15</text>
<text x="1648" y="824" font-size="10" letter-spacing="-0.4" fill="#000">0</text>
<text x="3.6" y="840" font-size="10" letter-spacing="-0.12" fill="#000">4 Apr 2023</text>
<text x="67.6" y="840" font-size="10" letter-spacing="-0.12" fill="#000">5 Apr 00:00</text>
<text x="131.6" y="840" font-size="10" letter-spacing="-0.12" fill="#000">5 Apr 16:00</text>
<text x="195.6" y="840" font-size="10" letter-spacing="-0.12" fill="#000">6 Apr 08:00</text>
<text x="259.6" y="840" font-size="10" letter-spacing="-0.12" fill="#000">7 Apr 00:00</text>
<text x="323.6" y="840" font-size="10" letter-spacing="-0.12" fill="#000">7 Apr 16:00</text>
<text x="387.6" y="840" font-size="10" letter-spacing="-0.12" fill="#000">10 Apr 08:00</text>
<text x="451.6" y="840" font-size="10" letter-spacing="-0.12" fill="#000">11 Apr 00:00</text>
<text x="515.6" y="840" font-size="10" letter-spacing="-0.12" fill="#000">11 Apr 16:00</text>
<text x="579.6" y="840" font-size="10" letter-spacing="-0.12" fill="#000">12 Apr 08:00</text>
<text x="643.6" y="840" font-size="10" letter-spacing="-0.12" fill="#000">13 Apr 00:00</text>
<text x="707.6" y="840" font-size="10" letter-spacing="-0.12" fill="#000">13 Apr 16:00</text>
<text x="771.6" y="840" font-size="10" letter-spacing="-0.12" fill="#000">14 Apr 08:00</text>
<text x="835.6" y="840" font-size="10" letter-spacing="-0.12" fill="#000">17 Apr 00:00</text>
<text x="899.6" y="840" font-size="10" letter-spacing="-0.12" fill="#000">17 Apr 16:00</text>
<text x="963.6" y="840" font-size="10" letter-spacing="-0.12" fill="#000">18 Apr 08:00</text>
<text x="1027.6" y="840" font-size="10" letter-spacing="-0.12" fill="#000">19 Apr 00:00</text>
<text x="1091.6" y="840" font-size="10" letter-spacing="-0.12" fill="#000">19 Apr 16:00</text>
<text x="1155.6" y="840" font-size="10" letter-spacing="-0.12" fill="#000">20 Apr 08:00</text>
<text x="1219.6" y="840" font-size="10" letter-spacing="-0.12" fill="#000">21 Apr 00:00</text>
<text x="1283.6" y="840" font-size="10" letter-spacing="-0.12" fill="#000">21 Apr 16:00</text>
<g shape-rendering="crispEdges">
</g>
<rect x="1646" y="108" width="41" height="11" fill="#ff0000"/>
<text x="1650" y="117" font-size="10" letter-spacing="-0.4" fill="#fff">167.383</text>
<rect x="1646" y="137" width="41" height="11" fill="#ff0000"/>
<text x="1650" y="146" font-size="10" letter-spacing="-0.4" fill="#fff">167.100</text>
<rect x="1646" y="168" width="41" height="11" fill="#000000"/>
<text x="1650" y="177" font-size="10" letter-spacing="-0.4" fill="#fff">166.815</text>
<rect x="1646" y="180" width="41" height="11" fill="#ff8c00"/>
<text x="1650" y="189" font-size="10" letter-spacing="-0.4" fill="#fff">166.681</text>
<rect x="1646" y="206" width="41" height="11" fill="#0000ff"/>
<text x="1650" y="215" font-size="10" letter-spacing="-0.4" fill="#fff">166.428</text>
<rect x="1646" y="235" width="41" height="11" fill="#0000ff"/>
<text x="1650" y="244" font-size="10" letter-spacing="-0.4" fill="#fff">166.156</text>
</svg>
</body></html>
